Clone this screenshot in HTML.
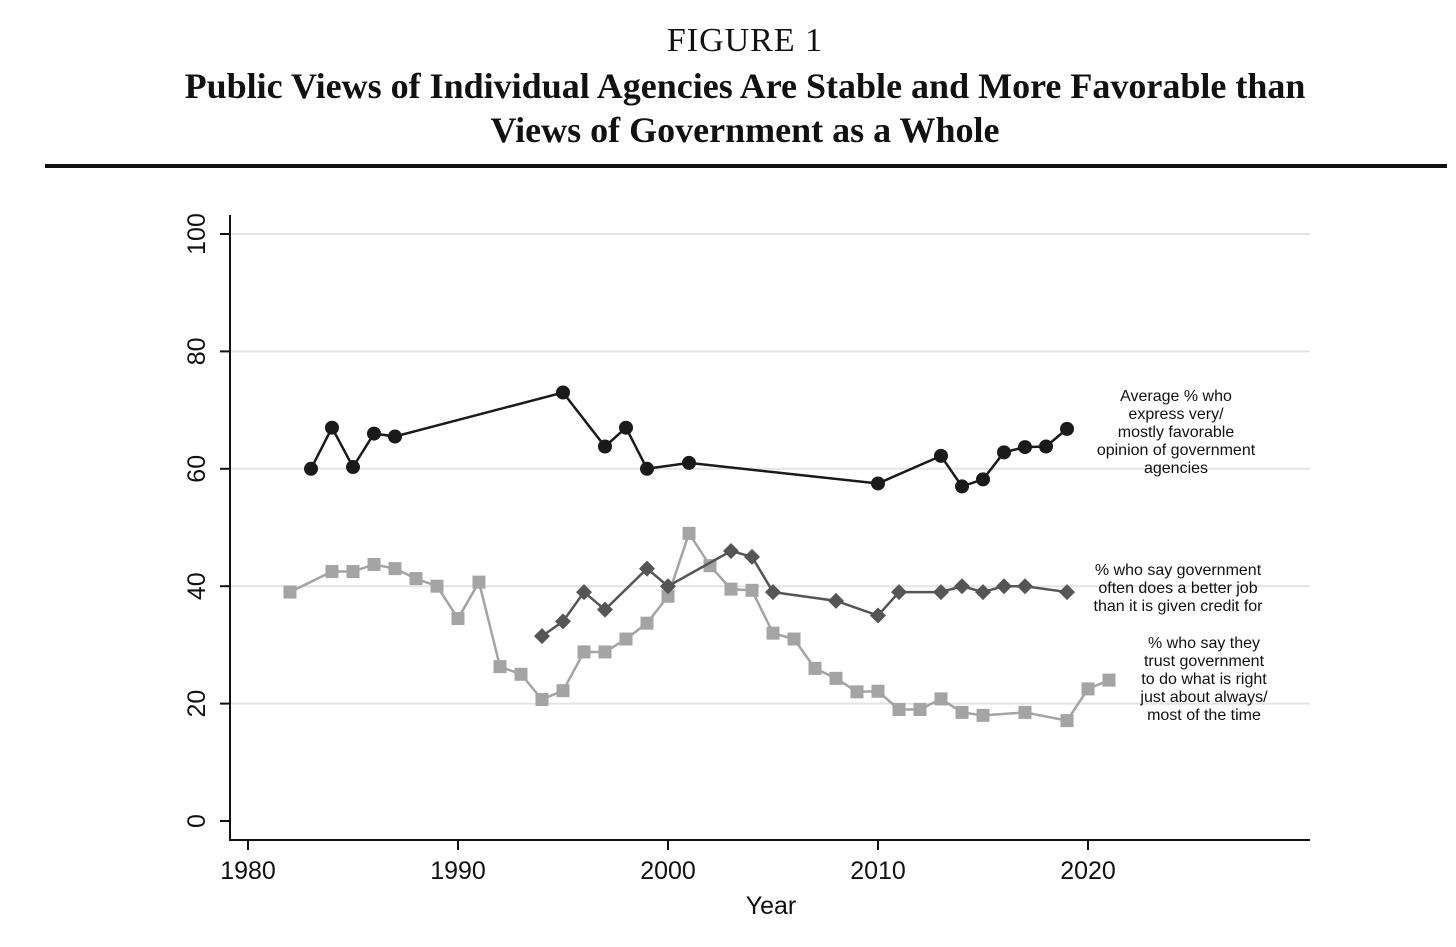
<!DOCTYPE html>
<html><head><meta charset="utf-8">
<style>
body{margin:0;background:#fff;width:1456px;height:947px;overflow:hidden;}
.t{font-family:"Liberation Serif",serif;text-align:center;color:#111;position:absolute;left:0;width:1490px;}
</style></head>
<body>
<div class="t" style="top:22px;font-size:34px;letter-spacing:1px;">FIGURE 1</div>
<div class="t" style="top:64px;font-size:36px;font-weight:bold;line-height:44px;">Public Views of Individual Agencies Are Stable and More Favorable than<br>Views of Government as a Whole</div>
<div style="position:absolute;left:45px;top:164px;width:1402px;height:4px;background:#111;"></div>
<svg id="chart" width="1456" height="947" style="position:absolute;left:0;top:0;" font-family="Liberation Sans, sans-serif"></svg>
<script>
const circleYears=[1983,1984,1985,1986,1987,1995,1997,1998,1999,2001,2010,2013,2014,2015,2016,2017,2018,2019];
const circleVals=[60,67,60.3,66,65.5,73,63.8,67,60,61,57.5,62.2,57,58.2,62.8,63.7,63.8,66.8];
const diamondYears=[1994,1995,1996,1997,1999,2000,2003,2004,2005,2008,2010,2011,2013,2014,2015,2016,2017,2019];
const diamondVals=[31.5,34,39,36,43,40,46,45,39,37.5,35,39,39,40,39,40,40,39];
const squareYears=[1982,1984,1985,1986,1987,1988,1989,1990,1991,1992,1993,1994,1995,1996,1997,1998,1999,2000,2001,2002,2003,2004,2005,2006,2007,2008,2009,2010,2011,2012,2013,2014,2015,2017,2019,2020,2021];
const squareVals=[39,42.5,42.5,43.7,43,41.3,40,34.5,40.7,26.3,25,20.7,22.2,28.8,28.8,31,33.7,38.3,49,43.5,39.5,39.3,32,31,26,24.3,22,22.1,19,19,20.8,18.5,18,18.5,17.1,22.5,24];
const xTicks=[1980,1990,2000,2010,2020];
const yTicks=[0,20,40,60,80,100];
const X=y=>248+(y-1980)*21;
const Y=v=>821-v*5.87;
const svg=document.getElementById('chart');
const NS='http://www.w3.org/2000/svg';
function mk(tag,attrs){const e=document.createElementNS(NS,tag);for(const k in attrs)e.setAttribute(k,attrs[k]);svg.appendChild(e);return e;}
yTicks.forEach(t=>{
 if(t>0){const g=mk('line',{x1:230,x2:1310,y1:Y(t),y2:Y(t),stroke:'#e4e4e4','stroke-width':2});
 
 }
 const tk=mk('line',{x1:220,x2:230,y1:Y(t),y2:Y(t),stroke:'#111','stroke-width':2});
 
 
 const tx=mk('text',{x:0,y:0,'font-size':25,'text-anchor':'middle',fill:'#111',transform:`translate(205,${Y(t)}) rotate(-90)`});
 tx.textContent=t;
 
 
});
xTicks.forEach(t=>{
 const tk=mk('line',{x1:X(t),x2:X(t),y1:840,y2:850,stroke:'#111','stroke-width':2});
 
 
 const tx=mk('text',{x:X(t),y:879,'font-size':25,'text-anchor':'middle',fill:'#111'});
 tx.textContent=t;
 
 
});
const ya=mk('line',{x1:230,x2:230,y1:215,y2:841,stroke:'#111','stroke-width':2});


const xa=mk('line',{x1:229,x2:1310,y1:840,y2:840,stroke:'#111','stroke-width':2});


const xt=mk('text',{x:771,y:914,'font-size':25,'text-anchor':'middle',fill:'#111'});
xt.textContent='Year';


function series(years,vals,color,shape,name){
 const pl=mk('polyline',{points:years.map((y,i)=>X(y)+','+Y(vals[i])).join(' '),fill:'none',stroke:color,'stroke-width':2.5});
 
 
 years.forEach((y,i)=>{
  const cx=X(y),cy=Y(vals[i]);let m;
  if(shape==='c')m=mk('circle',{cx,cy,r:7,fill:color});
  else if(shape==='s')m=mk('rect',{x:cx-6.5,y:cy-6.5,width:13,height:13,fill:color});
  else m=mk('polygon',{points:`${cx},${cy-8} ${cx+8},${cy} ${cx},${cy+8} ${cx-8},${cy}`,fill:color});
  
  
 });
}
series(squareYears,squareVals,'#a4a4a4','s','trust-government');
series(diamondYears,diamondVals,'#555','d','better-job');
series(circleYears,circleVals,'#1a1a1a','c','agency-favorable');
function label(lines,cx,y0,name){
 lines.forEach((l,i)=>{const t=mk('text',{x:cx,y:y0+i*18,'font-size':16,'text-anchor':'middle',fill:'#111'});
 t.textContent=l;
 
 });
}
label(['Average % who','express very/','mostly favorable','opinion of government','agencies'],1176,401,'label-agency-favorable');
label(['% who say government','often does a better job','than it is given credit for'],1178,575,'label-better-job');
label(['% who say they','trust government','to do what is right','just about always/','most of the time'],1204,648,'label-trust-government');
</script>
</body></html>
